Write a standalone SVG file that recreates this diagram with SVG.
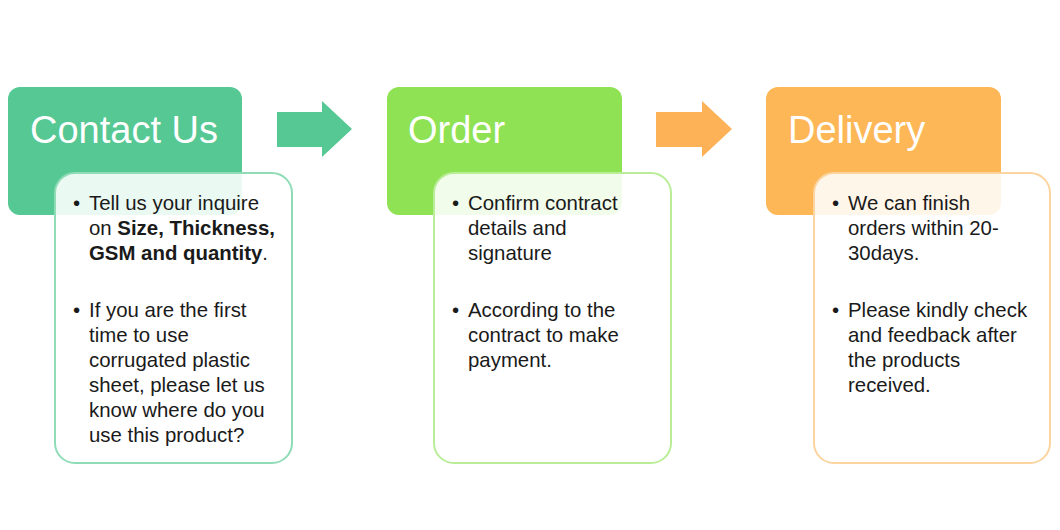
<svg xmlns="http://www.w3.org/2000/svg" width="1060" height="530" viewBox="0 0 1060 530">
<style>
.hdr{font-family:"Liberation Sans",Arial,sans-serif;font-size:38px;fill:#ffffff}
.body{font-family:"Liberation Sans",Arial,sans-serif;font-size:20.4px;fill:#1a1a1a}
.card{fill:#ffffff;fill-opacity:0.88;stroke-width:2}
.b{font-weight:bold}
</style>
<rect width="1060" height="530" fill="#ffffff"/>
<g id="connectors">
<polygon points="277,112 322,112 322,101 352,129 322,157 322,147 277,147" fill="#55C893"/>
<polygon points="656,112 702,112 702,101 732,129 702,157 702,147 656,147" fill="#FDB257"/>
</g>
<g id="contact">
<rect x="8" y="87" width="234" height="128" rx="12" fill="#55C893"/>
<text class="hdr" x="30" y="143">Contact Us</text>
<rect class="card" x="55" y="173" width="237" height="290" rx="20" stroke="#8FDCB7"/>
<text class="body"><tspan x="73" y="210">•</tspan><tspan x="89" y="210">Tell us your inquire</tspan><tspan x="89" y="235">on <tspan class="b">Size, Thickness,</tspan></tspan><tspan x="89" y="260" class="b">GSM and quantity</tspan><tspan>.</tspan><tspan x="73" y="317">•</tspan><tspan x="89" y="317">If you are the first</tspan><tspan x="89" y="342">time to use</tspan><tspan x="89" y="367">corrugated plastic</tspan><tspan x="89" y="392">sheet, please let us</tspan><tspan x="89" y="417">know where do you</tspan><tspan x="89" y="442">use this product?</tspan></text>
</g>
<g id="order">
<rect x="387" y="87" width="235" height="128" rx="12" fill="#8FE253"/>
<text class="hdr" x="408" y="143">Order</text>
<rect class="card" x="434" y="173" width="237" height="290" rx="20" stroke="#B9ED98"/>
<text class="body"><tspan x="452" y="210">•</tspan><tspan x="468" y="210">Confirm contract</tspan><tspan x="468" y="235">details and</tspan><tspan x="468" y="260">signature</tspan><tspan x="452" y="317">•</tspan><tspan x="468" y="317">According to the</tspan><tspan x="468" y="342">contract to make</tspan><tspan x="468" y="367">payment.</tspan></text>
</g>
<g id="delivery">
<rect x="766" y="87" width="235" height="128" rx="12" fill="#FDB757"/>
<text class="hdr" x="788" y="143">Delivery</text>
<rect class="card" x="814" y="173" width="236" height="290" rx="20" stroke="#FBD49F"/>
<text class="body"><tspan x="832" y="210">•</tspan><tspan x="848" y="210">We can finish</tspan><tspan x="848" y="235">orders within 20-</tspan><tspan x="848" y="260">30days.</tspan><tspan x="832" y="317">•</tspan><tspan x="848" y="317">Please kindly check</tspan><tspan x="848" y="342">and feedback after</tspan><tspan x="848" y="367">the products</tspan><tspan x="848" y="392">received.</tspan></text>
</g>
</svg>
